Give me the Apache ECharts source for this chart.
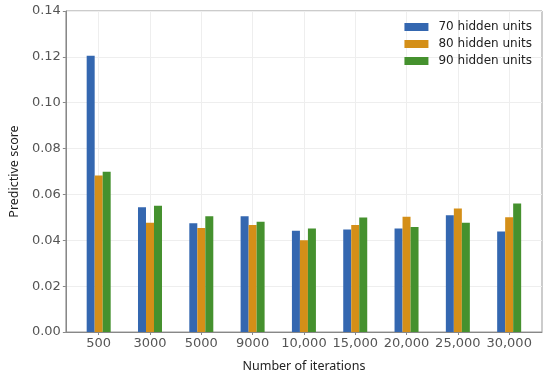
<!DOCTYPE html>
<html><head><meta charset="utf-8">
<script src="https://cdn.jsdelivr.net/npm/echarts@6/dist/echarts.min.js"></script>
<style>html,body{margin:0;padding:0;background:#fff}#c{width:550px;height:378px}</style>
</head><body><div id="c"></div>
<script>
const categories = ['500','3000','5000','9000','10,000','15,000','20,000','25,000','30,000'];
const seriesNames = ['70 hidden units','80 hidden units','90 hidden units'];
const units70 = [0.1205,0.0544,0.0474,0.0505,0.0442,0.0447,0.0451,0.0509,0.0438];
const units80 = [0.0683,0.0477,0.0454,0.0467,0.0400,0.0467,0.0503,0.0539,0.0500];
const units90 = [0.0699,0.0551,0.0505,0.0481,0.0451,0.0499,0.0458,0.0477,0.0560];
const yTicks = [0,0.02,0.04,0.06,0.08,0.10,0.12,0.14];
const colors = ['#3467b0','#d48f18','#45912e'];

const font = 'DejaVu Sans';
const tfont = 'Noto Sans';
const idx = categories.map((_, i) => i);
const mk = arr => arr.map((v, i) => [i, v]);
const chart = echarts.init(document.getElementById('c'), null, {renderer:'canvas'});
chart.setOption({
  animation:false,
  color: colors,
  textStyle:{fontFamily:font},
  grid:{left:56,right:8,top:11,bottom:46,show:true,borderColor:'#999',borderWidth:1,containLabel:false},
  legend:{
    data: seriesNames, orient:'vertical', right:13, top:15,
    itemWidth:24, itemHeight:8, itemGap:3, icon:'rect',
    textStyle:{fontFamily:font,fontSize:12,color:'#222',lineHeight:14,padding:[0,0,0,5]}
  },
  xAxis:{
    type:'value', min:-0.64, max:8.64,
    name:'Number of iterations', nameLocation:'middle', nameGap:28,
    nameTextStyle:{fontFamily:tfont,fontSize:12.5,color:'#222'},
    axisLine:{show:true,onZero:false,lineStyle:{color:'#888'}},
    axisTick:{show:true,length:3,customValues: idx,lineStyle:{color:'#888'}},
    axisLabel:{customValues: idx, formatter: v => categories[Math.round(v)] ?? '', fontFamily:font,fontSize:13,color:'#555',margin:5},
    splitLine:{show:true,lineStyle:{color:'#eeeeee'}}
  },
  yAxis:{
    type:'value', min:0, max:0.14, interval:0.02,
    name:'Predictive score', nameLocation:'middle', nameGap:43,
    nameTextStyle:{fontFamily:tfont,fontSize:12.5,color:'#222'},
    axisLine:{show:true,onZero:false,lineStyle:{color:'#888'}},
    axisTick:{show:true,length:3,lineStyle:{color:'#888'}},
    axisLabel:{formatter: v => v.toFixed(2), fontFamily:font,fontSize:13,color:'#555',margin:5},
    splitLine:{show:true,lineStyle:{color:'#eeeeee'}}
  },
  series:[
    {name:seriesNames[0],type:'bar',data:mk(units70),barWidth:8,barGap:'0%'},
    {name:seriesNames[1],type:'bar',data:mk(units80),barWidth:8,barGap:'0%'},
    {name:seriesNames[2],type:'bar',data:mk(units90),barWidth:8,barGap:'0%'}
  ]
});
</script></body></html>
